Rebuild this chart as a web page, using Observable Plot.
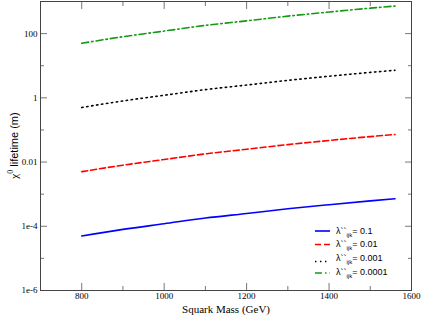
<!DOCTYPE html>
<html><head><meta charset="utf-8">
<script src="https://cdn.jsdelivr.net/npm/d3@7"></script>
<script src="https://cdn.jsdelivr.net/npm/@observablehq/plot@0.6"></script>
<style>body{margin:0;background:#fff} svg{display:block}</style>
</head><body><div id="chart"></div>
<script>
// Data
const squarkMass = [800, 900, 1000, 1100, 1200, 1300, 1400, 1500, 1560];
const lifetimeL01 = [5.0e-5, 8.0e-5, 1.2e-4, 1.8e-4, 2.5e-4, 3.5e-4, 4.7e-4, 6.2e-4, 7.2e-4];
const lifetimeL001 = [5.0e-3, 8.0e-3, 1.2e-2, 1.8e-2, 2.5e-2, 3.5e-2, 4.7e-2, 6.2e-2, 7.2e-2];
const lifetimeL0001 = [0.50, 0.80, 1.2, 1.8, 2.5, 3.5, 4.7, 6.2, 7.2];
const lifetimeL00001 = [50, 80, 120, 180, 250, 350, 470, 620, 720];
const couplingLabels = ["0.1", "0.01", "0.001", "0.0001"];
const seriesColors = ["#0000ff", "#ff0000", "#000000", "#139a13"];
const seriesDash = [null, "6,3", "1.4,3.6", "7,3,1.5,3"];

const xTicks = [800, 1000, 1200, 1400, 1600];
const xMinorTicks = [900, 1100, 1300, 1500];
const yTicks = [1e-6, 1e-4, 1e-2, 1, 100];
const yTickLabels = ["1e-6", "1e-4", "0.01", "1", "100"];
const yMinorTicks = [1e-5, 1e-3, 1e-1, 10];

const allSeries = [lifetimeL01, lifetimeL001, lifetimeL0001, lifetimeL00001];
const tables = allSeries.map(vals => squarkMass.map((m, i) => ({m, t: vals[i]})));
const yLabelMap = new Map(yTicks.map((v, i) => [v, yTickLabels[i]]));

const tickColor = "#777";
const svg = Plot.plot({
  width: 422, height: 315,
  marginLeft: 40, marginRight: 11, marginTop: 1, marginBottom: 25,
  style: {fontFamily: "'Liberation Serif', serif", fontSize: "9px", background: "#fff"},
  x: {domain: [700, 1600]},
  y: {type: "log", domain: [1e-6, 1000]},
  marks: [
    // tick marks (inward) on all four sides
    Plot.axisY(yTicks, {anchor: "left", tickSize: 7, dx: 7, fill: "none", stroke: tickColor}),
    Plot.axisY(yMinorTicks, {anchor: "left", tickSize: 4, dx: 4, fill: "none", stroke: tickColor}),
    Plot.axisY(yTicks, {anchor: "right", tickSize: 7, dx: -7, fill: "none", stroke: tickColor}),
    Plot.axisY(yMinorTicks, {anchor: "right", tickSize: 4, dx: -4, fill: "none", stroke: tickColor}),
    Plot.axisX(xTicks, {anchor: "bottom", tickSize: 7, dy: -7, fill: "none", stroke: tickColor}),
    Plot.axisX(xMinorTicks, {anchor: "bottom", tickSize: 4, dy: -4, fill: "none", stroke: tickColor}),
    Plot.axisX(xTicks, {anchor: "top", tickSize: 7, dy: 7, fill: "none", stroke: tickColor}),
    Plot.axisX(xMinorTicks, {anchor: "top", tickSize: 4, dy: 4, fill: "none", stroke: tickColor}),
    // tick labels
    Plot.axisY(yTicks, {anchor: "left", tickSize: 0, tickPadding: 3, tickFormat: d => yLabelMap.get(d), label: null, fill: "#000"}),
    Plot.axisX(xTicks, {anchor: "bottom", tickSize: 0, tickPadding: 2, tickFormat: d => String(d), label: null, fill: "#000"}),
    Plot.frame({stroke: "#444"}),
    ...tables.map((tbl, i) => Plot.line(tbl, {
      x: "m", y: "t", stroke: seriesColors[i], strokeWidth: 1.6,
      strokeDasharray: seriesDash[i], curve: "monotone-x"
    })),
    Plot.text(["Squark Mass (GeV)"], {frameAnchor: "bottom", lineAnchor: "bottom", dy: 22, text: d => d, fontSize: 11, fill: "#000"})
  ]
});

const s = d3.select(svg);
// y-axis title with superscript
const yt = s.append("text")
  .attr("transform", "translate(17.5,145.5) rotate(-90)")
  .attr("text-anchor", "middle")
  .attr("fill", "#000")
  .style("font-size", "11px");
yt.append("tspan").style("font-family", "'Liberation Serif', serif").text("χ");
yt.append("tspan").style("font-family", "'Liberation Serif', serif").style("font-size", "8px").attr("dy", -5).text("0");
yt.append("tspan").style("font-family", "'Liberation Sans', Arial, sans-serif").attr("dy", 5).text(" lifetime (m)");

// legend
const legendLineY = [231, 244.5, 261.5, 273];
const legendTextY = [233.5, 247, 260.5, 274.5];
const lg = s.append("g");
couplingLabels.forEach((lab, i) => {
  lg.append("line")
    .attr("x1", 315).attr("x2", 330)
    .attr("y1", legendLineY[i]).attr("y2", legendLineY[i])
    .attr("stroke", seriesColors[i]).attr("stroke-width", 1.6)
    .attr("stroke-dasharray", seriesDash[i]);
  const t = lg.append("text")
    .attr("x", 336).attr("y", legendTextY[i])
    .attr("text-anchor", "start")
    .attr("fill", "#000")
    .style("font-family", "'Liberation Sans', Arial, sans-serif")
    .style("font-size", "9px");
  t.append("tspan").text("λ``");
  t.append("tspan").attr("dy", 3).style("font-size", "6px").text("ijk");
  t.append("tspan").attr("dy", -3).text("= " + lab);
});

document.getElementById("chart").appendChild(svg);
</script>
</body></html>
